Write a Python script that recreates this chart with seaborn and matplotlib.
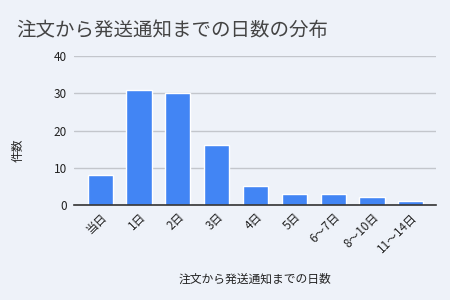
import matplotlib
matplotlib.use("Agg")
import matplotlib.pyplot as plt
import seaborn as sns
import pandas as pd

categories = ["当日", "1日", "2日", "3日", "4日", "5日", "6～7日", "8～10日", "11～14日"]
counts = [8, 31, 30, 16, 5, 3, 3, 2, 1]
y_ticks = [0, 10, 20, 30, 40]

title = "注文から発送通知までの日数の分布"
x_label = "注文から発送通知までの日数"
y_label = "件数"

bg = "#EEF2F9"
sns.set_theme(style="white")
plt.rcParams["font.family"] = ["Noto Sans CJK JP", "DejaVu Sans"]

df = pd.DataFrame({"cat": categories, "n": counts})

fig = plt.figure(figsize=(4.5, 3.0), dpi=100, facecolor=bg)
ax = fig.add_axes([0.164, 0.317, 0.805, 0.496])
ax.set_facecolor(bg)
sns.barplot(data=df, x="cat", y="n", color="#4285F4", saturation=1, width=0.65, ax=ax, zorder=3)

ax.set_ylim(0, 40)
ax.set_xlim(-0.68, 8.65)
ax.set_yticks(y_ticks)
ax.yaxis.grid(True, color="#C3C6CC", linewidth=1, zorder=0)
for s in ["top", "right", "left"]:
    ax.spines[s].set_visible(False)
ax.spines["bottom"].set_color("#333333")
ax.spines["bottom"].set_linewidth(1.2)
ax.spines["bottom"].set_zorder(4)
ax.tick_params(axis="y", length=0, labelsize=8.5, labelcolor="#222222", pad=5)
ax.tick_params(axis="x", length=0, labelsize=8.5, labelcolor="#222222", pad=4)
plt.setp(ax.get_xticklabels(), rotation=45, ha="right", rotation_mode="anchor")

ax.set_xlabel(x_label, fontsize=8.5, color="#222222")
ax.set_ylabel(y_label, fontsize=8.5, color="#222222")
ax.xaxis.set_label_coords(0.5, -0.456)
ax.yaxis.set_label_coords(-0.135, 0.37)
fig.text(0.036, 0.9, title, fontsize=14, color="#444444", ha="left", va="center")

fig.savefig("out.png", dpi=100, facecolor=bg)
